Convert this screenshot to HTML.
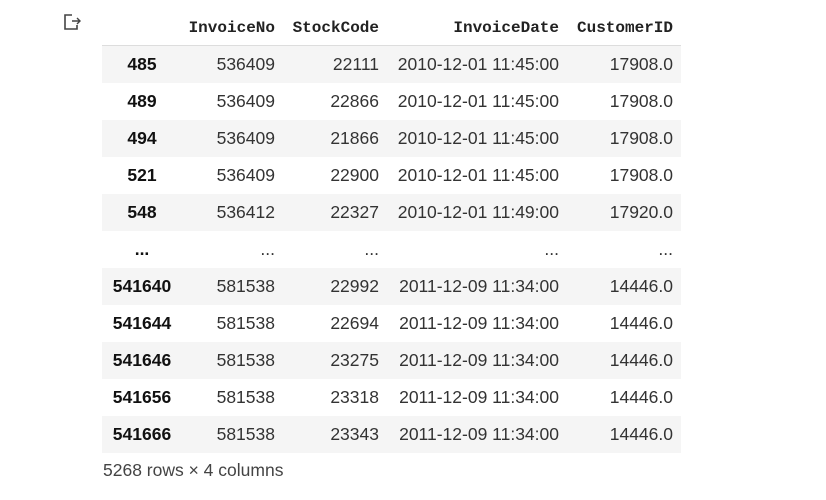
<!DOCTYPE html>
<html><head><style>
body{margin:0;width:826px;height:500px;background:#fff;position:relative;overflow:hidden;font-family:"Liberation Sans",Arial,sans-serif;color:#222}
.icon{position:absolute;left:63px;top:13px}
table{position:absolute;left:102px;top:10px;border-collapse:collapse;font-size:17.5px}
th.h{font-family:"Liberation Mono",monospace;font-weight:bold;font-size:16px;height:35px;text-align:right;padding:0 8px 0 0;border-bottom:1px solid #ddd;vertical-align:middle;color:#222}
td{height:37px;text-align:right;padding:0 8px 0 0;color:#333}
td.i{text-align:center;font-weight:bold;padding:0;color:#111}
tr.g td{background:#f5f5f5}
.foot{position:absolute;left:103px;top:460px;font-size:17.5px;color:#444}
</style></head><body>
<svg class="icon" width="20" height="18" viewBox="0 0 20 18"><path d="M9 2H2v14h12v-4" fill="none" stroke="#444" stroke-width="1.6"/><path d="M9 8h8M14 5l3 3-3 3" fill="none" stroke="#444" stroke-width="1.4"/></svg>
<table>
<colgroup><col style="width:80px"><col style="width:101px"><col style="width:104px"><col style="width:180px"><col style="width:114px"></colgroup>
<tr><th class="h"></th><th class="h">InvoiceNo</th><th class="h">StockCode</th><th class="h">InvoiceDate</th><th class="h">CustomerID</th></tr>
<tr class="g"><td class="i">485</td><td>536409</td><td>22111</td><td>2010-12-01 11:45:00</td><td>17908.0</td></tr>
<tr><td class="i">489</td><td>536409</td><td>22866</td><td>2010-12-01 11:45:00</td><td>17908.0</td></tr>
<tr class="g"><td class="i">494</td><td>536409</td><td>21866</td><td>2010-12-01 11:45:00</td><td>17908.0</td></tr>
<tr><td class="i">521</td><td>536409</td><td>22900</td><td>2010-12-01 11:45:00</td><td>17908.0</td></tr>
<tr class="g"><td class="i">548</td><td>536412</td><td>22327</td><td>2010-12-01 11:49:00</td><td>17920.0</td></tr>
<tr><td class="i">...</td><td>...</td><td>...</td><td>...</td><td>...</td></tr>
<tr class="g"><td class="i">541640</td><td>581538</td><td>22992</td><td>2011-12-09 11:34:00</td><td>14446.0</td></tr>
<tr><td class="i">541644</td><td>581538</td><td>22694</td><td>2011-12-09 11:34:00</td><td>14446.0</td></tr>
<tr class="g"><td class="i">541646</td><td>581538</td><td>23275</td><td>2011-12-09 11:34:00</td><td>14446.0</td></tr>
<tr><td class="i">541656</td><td>581538</td><td>23318</td><td>2011-12-09 11:34:00</td><td>14446.0</td></tr>
<tr class="g"><td class="i">541666</td><td>581538</td><td>23343</td><td>2011-12-09 11:34:00</td><td>14446.0</td></tr>
</table>
<div class="foot">5268 rows × 4 columns</div>
</body></html>
